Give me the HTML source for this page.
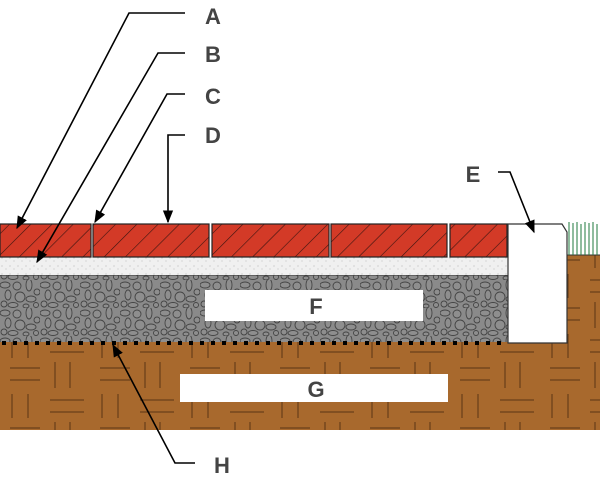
<!DOCTYPE html>
<html><head><style>html,body{margin:0;padding:0;background:#fff}svg{display:block}</style></head>
<body>
<svg width="600" height="480" viewBox="0 0 600 480" xmlns="http://www.w3.org/2000/svg">
<defs>
<pattern id="hatch" width="15" height="15" patternUnits="userSpaceOnUse" patternTransform="rotate(45)">
<rect width="15" height="15" fill="#d33a27"/><line x1="0" y1="0" x2="0" y2="15" stroke="#3a1410" stroke-width="1.2"/>
</pattern>
<pattern id="sand" width="8" height="8" patternUnits="userSpaceOnUse">
<rect width="8" height="8" fill="#f0f0f0"/><circle cx="2" cy="2" r=".6" fill="#bbb"/><circle cx="6" cy="5" r=".6" fill="#c4c4c4"/>
</pattern>
<pattern id="grav" width="40" height="28" patternUnits="userSpaceOnUse">
<rect width="40" height="28" fill="#8a8a8a"/>
<g fill="#8e8e8e" stroke="#444" stroke-width=".9">
<ellipse cx="5" cy="5" rx="5" ry="3"/><circle cx="17" cy="6" r="4"/><ellipse cx="29" cy="5" rx="3" ry="6"/><circle cx="37" cy="12" r="3"/>
<ellipse cx="8" cy="15" rx="3" ry="5"/><circle cx="20" cy="17" r="5"/><ellipse cx="31" cy="19" rx="5" ry="3"/>
<circle cx="4" cy="24" r="3"/><ellipse cx="13" cy="25" rx="5" ry="2.5"/><circle cx="36" cy="25" r="2.5"/><ellipse cx="26" cy="26" rx="3" ry="2"/>
</g>
</pattern>
<pattern id="soil" width="90" height="60" patternUnits="userSpaceOnUse">
<rect width="90" height="60" fill="#a8692d"/>
<g stroke="#5a3515" stroke-width="1">
<line x1="10" y1="8" x2="40" y2="8"/><line x1="10" y1="20" x2="40" y2="20"/>
<line x1="55" y1="2" x2="55" y2="28"/><line x1="70" y1="2" x2="70" y2="28"/>
<line x1="12" y1="34" x2="12" y2="58"/><line x1="28" y1="34" x2="28" y2="58"/>
<line x1="50" y1="40" x2="84" y2="40"/><line x1="50" y1="52" x2="84" y2="52"/>
</g>
</pattern>
<marker id="ar" viewBox="0 0 10 10" refX="9" refY="5" markerWidth="8" markerHeight="8" orient="auto"><path d="M0,1 L10,5 L0,9 z" fill="#000"/></marker>
</defs>
<rect x="0" y="342" width="600" height="88" fill="url(#soil)"/>
<rect x="567" y="255" width="33" height="90" fill="url(#soil)"/>
<line x1="567" y1="255" x2="600" y2="255" stroke="#333"/>
<g stroke="#1f7a3e" stroke-width="1">
<line x1="569" y1="222" x2="569" y2="255"/><line x1="573" y1="223" x2="573" y2="255"/><line x1="577" y1="222" x2="577" y2="255"/><line x1="581" y1="224" x2="581" y2="255"/><line x1="585" y1="222" x2="585" y2="255"/><line x1="589" y1="223" x2="589" y2="255"/><line x1="593" y1="222" x2="593" y2="255"/><line x1="597" y1="224" x2="597" y2="255"/>
</g>
<rect x="0" y="275" width="508" height="67" fill="url(#grav)"/>
<line x1="0" y1="275" x2="508" y2="275" stroke="#333"/>
<rect x="0" y="257" width="508" height="18" fill="url(#sand)"/>
<g stroke="#222" stroke-width="1.2">
<rect x="0" y="224" width="91" height="33" fill="url(#hatch)"/>
<rect x="93" y="224" width="116" height="33" fill="url(#hatch)"/>
<rect x="212" y="224" width="117" height="33" fill="url(#hatch)"/>
<rect x="331" y="224" width="116" height="33" fill="url(#hatch)"/>
<rect x="450" y="224" width="57" height="33" fill="url(#hatch)"/>
</g>
<path d="M508,224 L562,224 L567,232 L567,343 L508,343 Z" fill="#fff" stroke="#333" stroke-width="1.2"/>
<rect x="205" y="290" width="218" height="31" fill="#fff"/>
<rect x="180" y="374" width="268" height="28" fill="#fff"/>
<line x1="2" y1="343" x2="508" y2="343" stroke="#000" stroke-width="4" stroke-dasharray="4,7"/>
<g stroke="#000" stroke-width="1.6" fill="none">
<polyline points="185,13 129,13 17,228" marker-end="url(#ar)"/>
<polyline points="185,53 158,53 37,262" marker-end="url(#ar)"/>
<polyline points="185,94 167,94 95,222" marker-end="url(#ar)"/>
<polyline points="185,135 168,135 168,222" marker-end="url(#ar)"/>
<polyline points="498,172 510,172 534,232" marker-end="url(#ar)"/>
<polyline points="195,463 175,463 113,345" marker-end="url(#ar)"/>
</g>
<g font-family="Liberation Sans, sans-serif" font-weight="bold" font-size="22" fill="#444" text-anchor="middle">
<text x="213" y="24">A</text><text x="213" y="62">B</text><text x="213" y="104">C</text><text x="213" y="143">D</text>
<text x="473" y="182">E</text><text x="316" y="314">F</text><text x="316" y="397">G</text><text x="222" y="473">H</text>
</g>
</svg>
</body></html>
